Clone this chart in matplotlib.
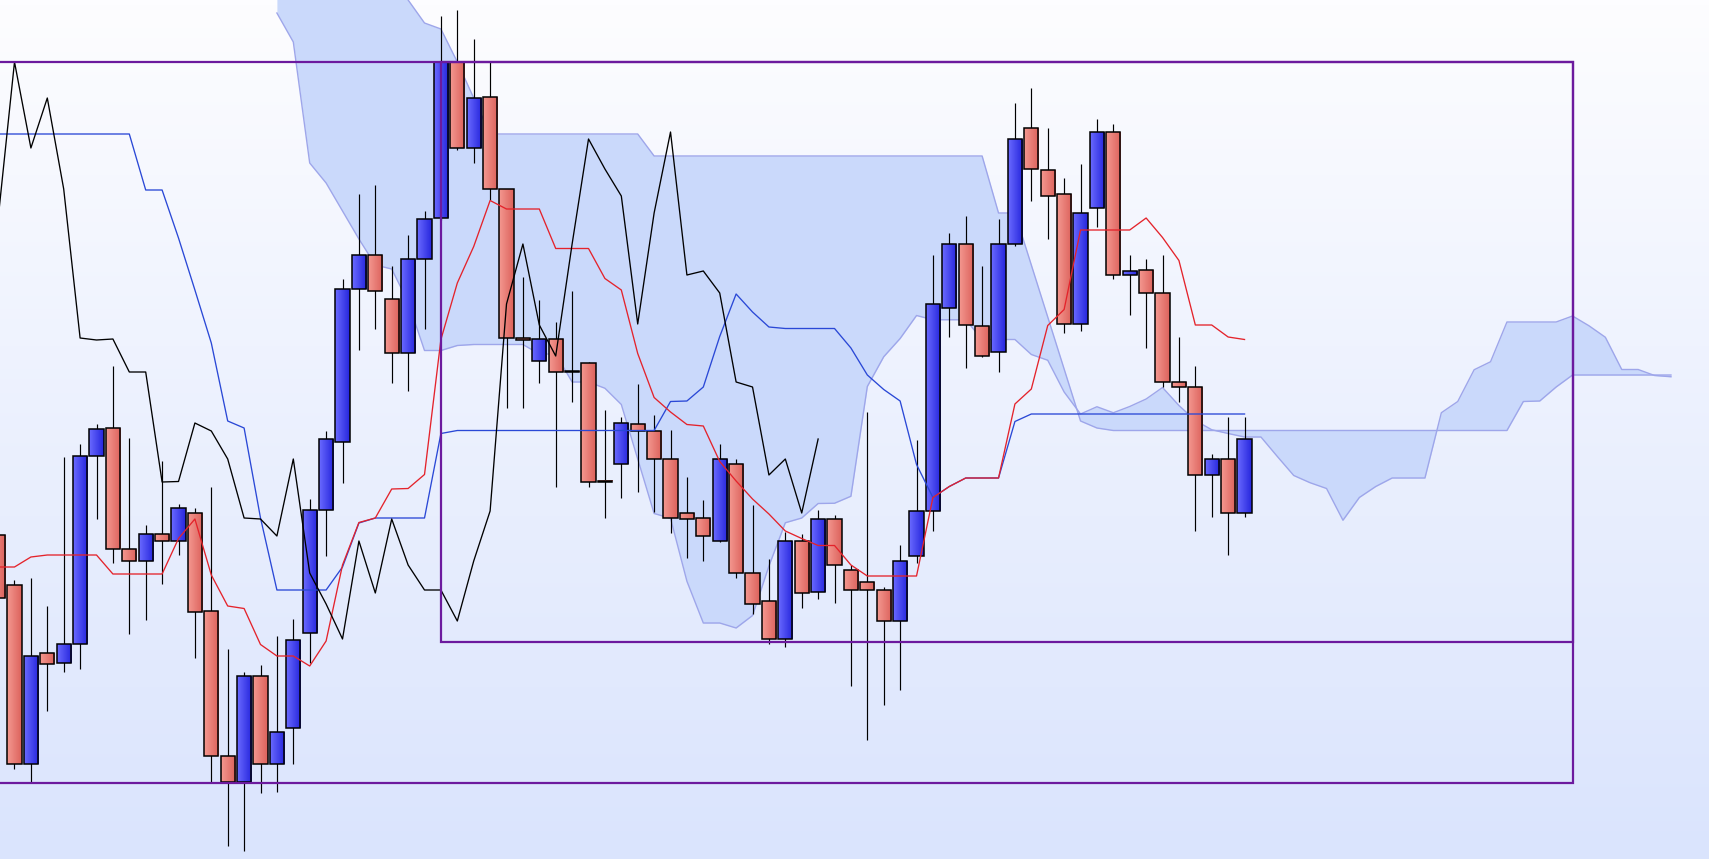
import numpy as np
import matplotlib
matplotlib.use("Agg")
import matplotlib.pyplot as plt
from matplotlib.colors import LinearSegmentedColormap
from matplotlib.patches import Rectangle

# ---------------- data (bar index -1 .. 75) ----------------
idx = np.arange(-1, 76)
opens = [365, 315, 136, 247, 237, 256, 444, 472, 351, 339, 366, 359, 387, 289, 144, 118,
         224, 136, 172, 267, 390, 458, 611, 645, 601, 547, 641, 682, 838, 752, 803, 711,
         562, 539, 561, 529, 537, 419, 436, 476, 469, 441, 387, 382, 359, 436, 327, 299,
         261, 359, 308, 381, 330, 318, 310, 279, 344, 389, 592, 656, 574, 548, 656, 772,
         730, 706, 576, 692, 768, 625, 630, 607, 518, 513, 425, 441, 387]
closes = [302, 136, 244, 236, 256, 444, 471, 351, 339, 366, 359, 392, 288, 144, 118, 224,
          136, 168, 260, 390, 461, 611, 645, 609, 547, 641, 681, 838, 752, 802, 711, 562,
          560, 561, 528, 528, 418, 418.5, 477, 469, 441, 382, 381, 364, 441, 327, 296, 261,
          359, 307, 381, 335, 310, 310, 279, 339, 389, 596, 656, 575, 544, 656, 761, 731,
          704, 576, 687, 768, 625, 629, 607, 518, 513, 425, 441, 387, 461]
highs = [370, 320, 322, 294, 443, 456, 476, 534, 462, 375, 439, 396, 392, 413, 251, 228,
         235, 264, 281, 401, 469, 621, 706, 715, 634, 665, 689, 884, 890, 861, 838, 711,
         623, 600, 578, 609, 538, 490, 483, 516, 485, 470, 423, 400, 456, 441, 395, 341,
         368, 366, 390, 385, 335, 488, 313, 355, 460, 645, 667, 684, 634, 681, 797, 812,
         772, 722, 736, 781, 776, 645, 641, 645, 563, 534, 446, 483, 483]
lows = [295, 131, 118, 189, 228, 231, 381, 337, 266, 280, 316, 345, 242, 118, 54, 49,
        107, 108, 136, 237, 344, 417, 550, 571, 517, 509, 571, 680, 750, 737, 700, 492,
        492, 517, 413, 498, 413, 382, 402, 408, 388, 367, 342, 339, 358, 322, 286, 256,
        253, 292, 301, 297, 214, 160, 195, 210, 337, 369, 563, 532, 543, 528, 654, 699,
        661, 567, 569, 673, 621, 585, 552, 513, 498, 369, 383, 345, 383]

tenkan = [333, 333, 343, 345, 345, 345, 345, 326, 326, 326, 326, 361.5, 381, 325, 294, 291.5,
          255.5, 244, 244, 234, 259, 335, 377.5, 382, 411, 411.5, 425.5, 560.5, 617, 653.5,
          699.5, 691, 691, 691, 651.5, 651.5, 651.5, 621.5, 610, 546.5, 502.5, 488, 475.5,
          474, 438.5, 419, 401, 386, 369, 361.5, 354.5, 354.5, 335, 324, 324, 324, 324,
          402.5, 413.5, 422, 422, 422, 496, 511, 574.5, 590.5, 670, 670, 670, 670, 682,
          662.5, 639.5, 575, 575, 563, 560.5]
kijun = [766, 766, 766, 766, 766, 766, 766, 766, 766, 710, 710, 662, 610, 557, 479, 472,
         382, 310, 310, 310, 310, 333, 377, 382, 382, 382, 382, 466.5,
         469.5, 469.5, 469.5, 469.5, 469.5, 469.5, 469.5, 469.5, 469.5, 469.5, 469.5, 469.5, 469.5,
         498.5, 499, 513, 563.5, 606, 588, 573, 571.5, 571.5, 571.5, 571.5, 552, 525, 510.5,
         499, 435.5, 402.5, 413.5, 422, 422, 422, 478.5,
         486, 486, 486, 486, 486, 486, 486, 486, 486, 486, 486, 486, 486, 486]

# cloud (leading spans), bar index 16 .. 101
span_idx = np.arange(16, 102)
senkou_a = [887, 858, 737, 717, 689, 661, 635, 631, 598, 549.5, 549.5, 554.5, 555.5, 555.5,
            555.5, 555.5, 546, 546, 518, 518, 511.75, 495.5, 441, 386.5, 381.75, 318.75,
            277, 277, 272, 284.5, 334, 377.25, 382, 396.5, 396.75, 403.75, 513.5, 543.25,
            561.5, 584.5, 580.25, 580.25, 580.25, 560.5, 560.5, 560.5, 545.5, 539.75, 508,
            486, 493.25, 487.25, 493.5, 501, 512.5, 494.5, 479.5, 470.25, 466.5, 463, 463,
            443.5, 424.5, 417.25, 411.5, 379.75, 402.5, 413.5, 422, 422, 422, 487.25, 498.5,
            530.25, 538.25, 578, 578, 578, 578, 584, 574.25, 562.75, 530.5, 530.5, 524.5, 523.25]
senkou_b = ([1030, 1010, 990, 970, 960, 950, 940, 930, 900, 877, 871, 838, 802]
            + [766] * 10 + [744] * 21 + [687, 687, 635, 583, 531, 479, 472]
            + [469.5] * 25 + [498.5, 499, 513] + [525] * 7)

# box annotations: left, right (bar index), top, bottom (price)
box_left = [-3, 26]
box_right = [95, 95]
box_top = [838, 838]
box_bottom = [117.5, 258.5]

# ---------------- drawing ----------------
fig = plt.figure(figsize=(17.09, 8.59), dpi=100)
ax = fig.add_axes([0, 0, 1, 1])
ax.axis("off")

bg = LinearSegmentedColormap.from_list("bg", ["#fdfdff", "#dae4fd"])
ax.imshow(np.linspace(0, 1, 256).reshape(-1, 1), extent=[0, 1, 0, 1],
          transform=ax.transAxes, cmap=bg, aspect="auto", zorder=0, interpolation="bilinear")

# cloud
ax.fill_between(span_idx, senkou_a, senkou_b, color="#cad9fb", lw=0, zorder=1)
ax.plot(span_idx, senkou_a, color="#9ea6ea", lw=1.0, zorder=1.2)
ax.plot(span_idx, senkou_b, color="#9ea6ea", lw=1.0, zorder=1.2)

# candles
red_cm = LinearSegmentedColormap.from_list("r", ["#f49890", "#dc625c"])
blue_cm = LinearSegmentedColormap.from_list("b", ["#6a6aff", "#2626dd"])
grad = np.linspace(0, 1, 32).reshape(1, -1)
hw = 0.43
ax.vlines(idx, lows, highs, color="black", lw=0.85, zorder=2)
for x, o, c in zip(idx, opens, closes):
    lo, hi = min(o, c), max(o, c)
    cm = blue_cm if c > o else red_cm
    ax.imshow(grad, extent=[x - hw, x + hw, lo, hi], cmap=cm, aspect="auto",
              interpolation="bilinear", zorder=2.2)
    ax.add_patch(Rectangle((x - hw, lo), 2 * hw, hi - lo, fill=False,
                           ec="black", lw=1.1, zorder=2.4))

# ichimoku lines
ax.plot(idx, kijun, color="#2a48d6", lw=0.95, zorder=3)
ax.plot(idx, tenkan, color="#e4232b", lw=0.95, zorder=3.1)
ax.plot(idx[26:] - 26, closes[26:], color="black", lw=0.95, zorder=3.2)

# boxes
for l, r, t, b in zip(box_left, box_right, box_top, box_bottom):
    ax.add_patch(Rectangle((l, b), r - l, t - b, fill=False, ec="#6c1a9e",
                           lw=1.6, zorder=4))

ax.set_xlim(-0.884, 103.32)
ax.set_ylim(41, 900)
fig.savefig("out.png", dpi=100)
